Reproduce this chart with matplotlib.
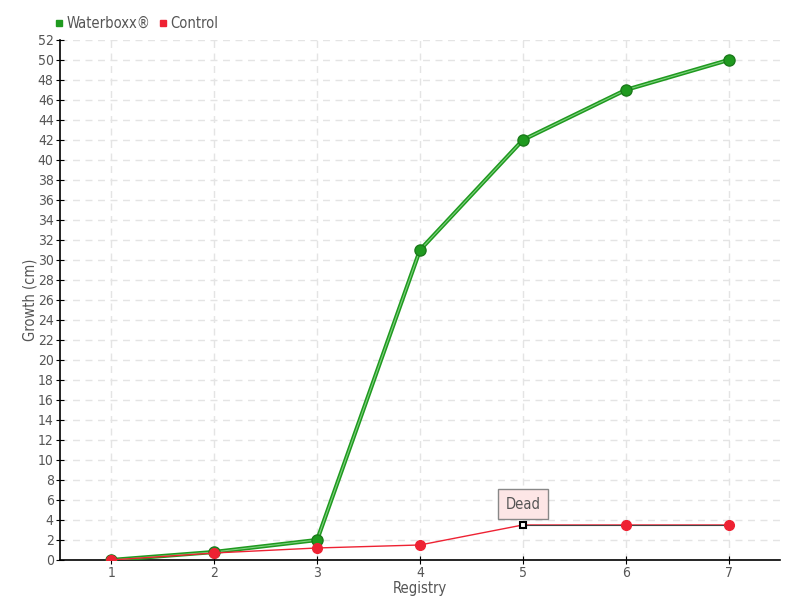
import matplotlib
matplotlib.use("Agg")
import matplotlib.pyplot as plt
from matplotlib.lines import Line2D

registry = [1, 2, 3, 4, 5, 6, 7]
waterboxx = [0, 0.8, 2, 31, 42, 47, 50]
control = [0, 0.7, 1.2, 1.5, 3.5, 3.5, 3.5]
dead_index = 4
series_names = ["Waterboxx®", "Control"]

GREEN = "#1f9a1f"
RED = "#ee2233"
TXT = "#555555"

plt.rcParams['font.family'] = ['DejaVu Sans']
plt.rcParams['font.stretch'] = 'condensed'
fig = plt.figure(figsize=(8, 6), dpi=100)
ax = fig.add_axes([0.075, 0.0667, 0.9, 0.8667])

ax.set_xlim(0.5, 7.5)
ax.set_ylim(0, 52)
ax.set_yticks(range(0, 53, 2))
ax.set_xticks(registry)
ax.grid(True, color="#e4e4e4", linestyle=(0, (5, 4)), linewidth=1)
ax.set_axisbelow(True)
for s in ["top", "right"]:
    ax.spines[s].set_visible(False)
ax.spines["left"].set_linewidth(1.2)
ax.spines["bottom"].set_linewidth(1.2)
ax.tick_params(axis="both", direction="inout", length=6, colors="black", labelcolor=TXT, labelsize=10, pad=1.5)

# Waterboxx line
ax.plot(registry, waterboxx, color=GREEN, linewidth=3, zorder=3)
ax.plot(registry, waterboxx, color="#7fd07f", linewidth=0.8, zorder=4)
ax.plot(registry, waterboxx, linestyle="none", marker="o", markersize=8, color=GREEN,
        markeredgecolor="#1a7a1a", zorder=5)

# Control line
ax.plot(registry, control, color=RED, linewidth=1, zorder=6)
ax.plot(registry[dead_index:], control[dead_index:], color="#444444", linewidth=0.8, zorder=6)
ctrl_x = [x for i, x in enumerate(registry) if i != dead_index]
ctrl_y = [y for i, y in enumerate(control) if i != dead_index]
ax.plot(ctrl_x, ctrl_y, linestyle="none", marker="o", markersize=7, color=RED, zorder=7)
ax.plot([registry[dead_index]], [control[dead_index]], linestyle="none", marker="s", markersize=5,
        markerfacecolor="white", markeredgecolor="black", markeredgewidth=1.5, zorder=8)

ax.annotate("Dead", xy=(registry[dead_index], control[dead_index]), xytext=(0, 15),
            textcoords="offset points", ha="center", va="center", fontsize=10.5, color=TXT,
            bbox=dict(boxstyle="square,pad=0.5", facecolor="#fde6e6", edgecolor="#888888"),
            zorder=9)

ax.set_ylabel("Growth (cm)", color=TXT, fontsize=10.5, labelpad=0)
ax.yaxis.set_label_coords(-0.031, 0.5)
ax.set_xlabel("Registry", color=TXT, fontsize=10.5)
ax.xaxis.set_label_coords(0.5, -0.04)

handles = [Line2D([], [], linestyle="none", marker="s", markersize=5, color=GREEN),
           Line2D([], [], linestyle="none", marker="s", markersize=5, color=RED)]
leg = fig.legend(handles, series_names, loc="upper left", bbox_to_anchor=(0.05, 0.995), ncol=2,
                 frameon=False, fontsize=10.5, handletextpad=0.1, columnspacing=0.5, handlelength=0.8)
for t in leg.get_texts():
    t.set_color(TXT)

fig.savefig("out.png", dpi=100)
